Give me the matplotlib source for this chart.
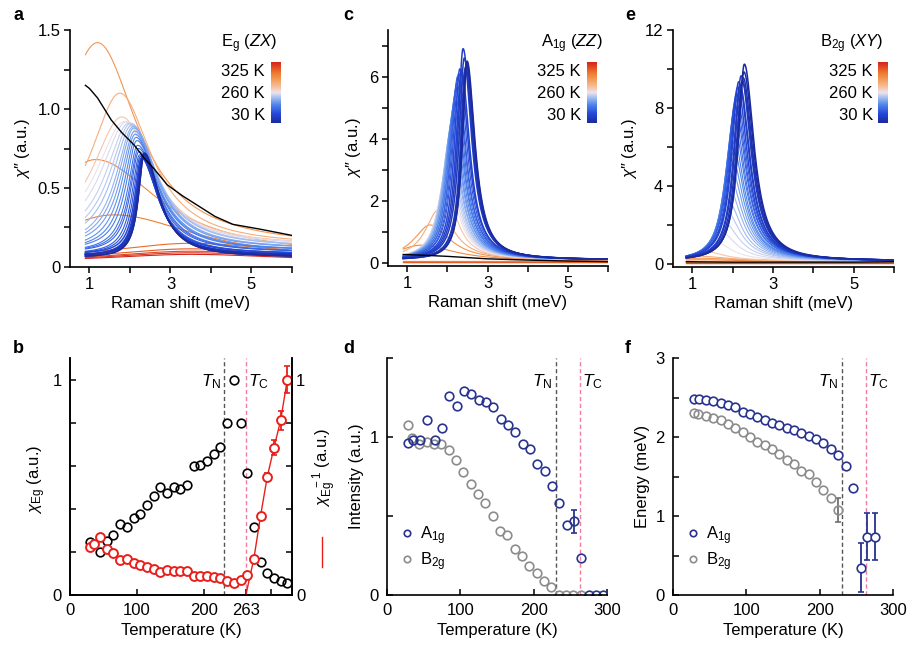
import matplotlib

matplotlib.use('Agg')
import matplotlib.pyplot as plt
import matplotlib.transforms as mtransforms
from matplotlib.colors import LinearSegmentedColormap
from matplotlib.lines import Line2D
import numpy as np

plt.rcParams['font.family'] = ['Liberation Sans', 'DejaVu Sans']
plt.rcParams['font.size'] = 12
plt.rcParams['mathtext.fontset'] = 'custom'
plt.rcParams['mathtext.rm'] = 'Liberation Sans'
plt.rcParams['mathtext.it'] = 'Liberation Sans:italic'
plt.rcParams['axes.linewidth'] = 1.2

# ---- spectra (a, c, e): peak parameters per temperature ----
T_spec = [30, 40, 50, 60, 70, 80, 90, 100, 110, 120, 130, 140, 150, 160, 170, 180, 190,
          200, 210, 220, 230, 240, 250, 260, 270, 280, 290, 295, 300, 305, 310, 315, 320, 325]

# Eg (ZX)
pos_a = [2.35, 2.35, 2.34, 2.33, 2.32, 2.31, 2.30, 2.28, 2.26, 2.24, 2.22, 2.21, 2.19, 2.17, 2.15, 2.13, 2.12,
         2.10, 2.08, 2.05, 2.02, 1.97, 1.92, 1.86, 1.80, 1.75, 1.20, 1.15, 1.60, 3.5, 3.5, 3.5, 3.5, 3.5]
h_a = [0.66, 0.66, 0.64, 0.64, 0.63, 0.62, 0.62, 0.61, 0.62, 0.63, 0.64, 0.66, 0.68, 0.70, 0.72, 0.74, 0.75,
       0.77, 0.78, 0.78, 0.79, 0.79, 0.79, 0.79, 0.82, 0.97, 1.30, 0.62, 0.30, 0.11, 0.08, 0.07, 0.06, 0.05]
wl_a = [0.17, 0.17, 0.17, 0.18, 0.18, 0.19, 0.19, 0.20, 0.22, 0.24, 0.26, 0.28, 0.30, 0.33, 0.36, 0.40, 0.44,
        0.48, 0.52, 0.58, 0.64, 0.70, 0.78, 0.85, 0.90, 0.90, 1.2, 1.5, 2.0, 2.5, 2.5, 2.5, 2.5, 2.5]
wr_a = [0.45, 0.45, 0.45, 0.46, 0.47, 0.48, 0.49, 0.50, 0.52, 0.54, 0.56, 0.58, 0.60, 0.62, 0.64, 0.66, 0.68,
        0.70, 0.72, 0.75, 0.78, 0.80, 0.82, 0.85, 0.90, 0.95, 1.2, 1.9, 2.5, 3.0, 3.0, 3.0, 3.0, 3.0]
bg_a = [0.06, 0.06, 0.07, 0.07, 0.07, 0.07, 0.07, 0.08, 0.08, 0.08, 0.09, 0.09, 0.09, 0.10, 0.10, 0.10, 0.11,
        0.11, 0.11, 0.12, 0.12, 0.12, 0.13, 0.13, 0.13, 0.13, 0.12, 0.06, 0.03, 0.04, 0.035, 0.03, 0.03, 0.03]
black_a_x = [0.9, 1.0, 1.2, 1.54, 1.8, 2.11, 2.35, 2.6, 2.92, 3.3, 3.73, 4.1, 4.54, 5.2, 5.6, 6.0]
black_a_y = [1.15, 1.13, 1.07, 0.93, 0.85, 0.77, 0.69, 0.62, 0.52, 0.45, 0.38, 0.32, 0.27, 0.24, 0.22, 0.20]

# A1g (ZZ)
pos_c = [2.49, 2.48, 2.47, 2.45, 2.42, 2.39, 2.35, 2.31, 2.28, 2.25, 2.23, 2.21, 2.19, 2.17, 2.15, 2.13, 2.11,
         2.09, 2.07, 2.05, 2.03, 2.01, 1.99, 1.97, 1.95, 1.78, 1.57, 1.35, 2.0, 2.0, 2.0, 2.0, 2.0, 2.0]
h_c = [6.4, 6.35, 6.3, 6.2, 6.5, 6.8, 6.1, 6.15, 6.0, 5.9, 5.7, 5.5, 5.3, 5.1, 4.9, 4.7, 4.5,
       4.3, 4.1, 3.9, 3.6, 3.3, 3.0, 2.7, 2.15, 1.62, 1.15, 0.52, 0.0, 0.0, 0.0, 0.0, 0.0, 0.0]
wl_c = [0.14, 0.14, 0.15, 0.15, 0.16, 0.16, 0.17, 0.17, 0.18, 0.18, 0.19, 0.19, 0.20, 0.20, 0.21, 0.21, 0.22,
        0.22, 0.23, 0.23, 0.24, 0.25, 0.26, 0.27, 0.30, 0.40, 0.50, 0.80, 1.0, 1.0, 1.0, 1.0, 1.0, 1.0]
wr_c = [0.24, 0.24, 0.24, 0.24, 0.25, 0.25, 0.25, 0.26, 0.26, 0.26, 0.27, 0.27, 0.27, 0.28, 0.28, 0.28, 0.29,
        0.29, 0.30, 0.30, 0.31, 0.32, 0.33, 0.34, 0.36, 0.45, 0.60, 1.0, 1.0, 1.0, 1.0, 1.0, 1.0, 1.0]
bg_c = [0.10, 0.10, 0.10, 0.10, 0.10, 0.10, 0.10, 0.10, 0.10, 0.10, 0.10, 0.10, 0.10, 0.10, 0.10, 0.10, 0.10,
        0.10, 0.10, 0.10, 0.10, 0.10, 0.10, 0.10, 0.10, 0.10, 0.08, 0.06, 0.07, 0.06, 0.05, 0.05, 0.04, 0.04]
black_c_x = [0.9, 1.5, 2.0, 2.5, 3.0, 4.0, 5.0, 6.0]
black_c_y = [0.28, 0.25, 0.22, 0.18, 0.14, 0.10, 0.07, 0.05]

# B2g (XY)
pos_e = [2.29, 2.28, 2.26, 2.24, 2.21, 2.18, 2.15, 2.12, 2.09, 2.07, 2.05, 2.03, 2.01, 1.99, 1.97, 1.95, 1.93,
         1.91, 1.89, 1.86, 1.83, 1.78, 1.70, 1.55, 1.30, 1.20, 1.20, 1.2, 1.2, 1.2, 1.2, 1.2, 1.2, 1.2]
h_e = [10.1, 9.7, 9.4, 9.2, 9.5, 9.0, 9.2, 8.9, 8.6, 8.3, 8.0, 7.6, 7.2, 6.7, 6.2, 5.6, 5.0,
       4.4, 3.8, 3.2, 2.6, 2.0, 1.5, 1.0, 0.5, 0.25, 0.15, 0.10, 0.0, 0.0, 0.0, 0.0, 0.0, 0.0]
wl_e = [0.19, 0.19, 0.19, 0.20, 0.20, 0.20, 0.21, 0.21, 0.21, 0.22, 0.22, 0.22, 0.23, 0.23, 0.24, 0.24, 0.25,
        0.26, 0.27, 0.28, 0.29, 0.30, 0.32, 0.35, 0.45, 0.6, 0.8, 1.0, 1.0, 1.0, 1.0, 1.0, 1.0, 1.0]
wr_e = [0.29, 0.29, 0.29, 0.30, 0.30, 0.30, 0.31, 0.31, 0.32, 0.32, 0.33, 0.33, 0.34, 0.34, 0.35, 0.36, 0.37,
        0.38, 0.39, 0.40, 0.42, 0.44, 0.46, 0.50, 0.60, 0.8, 1.0, 1.2, 1.0, 1.0, 1.0, 1.0, 1.0, 1.0]
bg_e = [0.15, 0.15, 0.15, 0.15, 0.15, 0.15, 0.15, 0.15, 0.15, 0.15, 0.15, 0.15, 0.15, 0.15, 0.15, 0.15, 0.15,
        0.15, 0.15, 0.15, 0.15, 0.15, 0.15, 0.15, 0.15, 0.15, 0.15, 0.12, 0.12, 0.10, 0.10, 0.08, 0.08, 0.08]
black_e_x = [0.85, 2.0, 3.0, 4.0, 5.0, 6.0]
black_e_y = [0.12, 0.10, 0.10, 0.10, 0.10, 0.12]

# ---- panel b ----
T_N = 230
T_C = 263
T_b_chi = [30, 45, 55, 65, 75, 85, 95, 105, 115, 125, 135, 145, 155, 165, 175, 185, 195, 205, 215, 225,
           235, 245, 255, 265, 275, 285, 295, 305, 315, 325]
chi_eg = [0.246, 0.199, 0.252, 0.277, 0.329, 0.317, 0.359, 0.376, 0.417, 0.459, 0.502, 0.474, 0.502, 0.49,
          0.509, 0.601, 0.603, 0.623, 0.654, 0.688, 0.796, 1.0, 0.796, 0.567, 0.317, 0.151, 0.1, 0.077,
          0.066, 0.054]
T_b_inv = [30, 36, 45, 55, 65, 75, 85, 95, 105, 115, 125, 135, 145, 155, 165, 175, 185, 195, 205, 215,
           225, 235, 245, 255, 265, 275, 285, 295, 305, 315, 325]
chi_eg_inv = [0.221, 0.239, 0.270, 0.213, 0.196, 0.162, 0.168, 0.147, 0.141, 0.128, 0.119, 0.107, 0.116,
              0.110, 0.113, 0.110, 0.090, 0.090, 0.088, 0.085, 0.077, 0.066, 0.054, 0.070, 0.094, 0.169,
              0.368, 0.549, 0.683, 0.811, 1.0]
chi_eg_inv_err = [0] * 27 + [0.017, 0.035, 0.044, 0.062]

# ---- panel d ----
T_d_a1g = [29, 35, 45, 55, 65, 75, 85, 95, 105, 115, 125, 135, 145, 155, 165, 175, 185, 195, 205, 215,
           225, 235, 245, 255, 265, 275, 285, 295]
int_a1g = [0.962, 0.983, 0.979, 1.11, 0.983, 1.055, 1.258, 1.199, 1.294, 1.275, 1.233, 1.22, 1.188, 1.114,
           1.076, 1.03, 0.958, 0.926, 0.831, 0.782, 0.687, 0.581, 0.442, 0.467, 0.233, 0, 0, 0]
int_a1g_err = [0] * 23 + [0.074] + [0] * 4
T_d_b2g = [28, 34, 44, 54, 64, 74, 84, 94, 104, 114, 124, 134, 144, 154, 164, 174, 184, 194, 204, 214,
           224, 234, 244, 254, 264]
int_b2g = [1.074, 0.994, 0.958, 0.968, 0.958, 0.956, 0.92, 0.856, 0.776, 0.704, 0.641, 0.581, 0.497, 0.408,
           0.381, 0.292, 0.247, 0.184, 0.142, 0.087, 0.053, 0, 0, 0, 0]

# ---- panel f ----
T_f_a1g = [29, 35, 45, 55, 65, 75, 85, 95, 105, 115, 125, 135, 145, 155, 165, 175, 185, 195, 205, 215,
           225, 236, 246, 256, 265, 276]
en_a1g = [2.484, 2.484, 2.47, 2.46, 2.43, 2.40, 2.38, 2.32, 2.29, 2.25, 2.22, 2.18, 2.155, 2.11, 2.09, 2.05,
          2.015, 1.97, 1.93, 1.85, 1.77, 1.635, 1.35, 0.346, 0.74, 0.74]
en_a1g_err = [0] * 23 + [0.31, 0.30, 0.30]
T_f_b2g = [28, 34, 45, 55, 65, 75, 85, 95, 105, 115, 125, 135, 145, 155, 165, 175, 185, 195, 205, 215, 225]
en_b2g = [2.30, 2.29, 2.27, 2.24, 2.21, 2.17, 2.11, 2.06, 2.0, 1.94, 1.90, 1.85, 1.79, 1.71, 1.66, 1.57,
          1.53, 1.43, 1.33, 1.225, 1.08]
en_b2g_err = [0] * 20 + [0.15]

BLUE = '#27338f'
GRAY = '#8c8c8c'
RED = '#e8201c'

cmap = LinearSegmentedColormap.from_list('temp', [
    (0.0, '#1b2a9e'), (0.15, '#2548d8'), (0.3, '#4f86ec'), (0.42, '#a9c0f0'), (0.5, '#ece4ee'),
    (0.58, '#f6c4a8'), (0.7, '#f4a060'), (0.82, '#ee7a2c'), (1.0, '#d6221a')])


def temp_frac(T):
    if T <= 260:
        return (T - 30) / 230 * 0.5
    return 0.5 + (T - 260) / 65 * 0.5


def lineshape(x, pos, h, wl, wr, bg):
    w = np.where(x < pos, wl, wr)
    return bg + h / (1 + ((x - pos) / w) ** 2)


def box(l, r, t, b):
    return [l / 911, 1 - b / 648, (r - l) / 911, (b - t) / 648]


def errbars(ax, x, y, err, color):
    keep = [i for i in range(len(err)) if err[i] > 0]
    ax.errorbar([x[i] for i in keep], [y[i] for i in keep], yerr=[err[i] for i in keep],
                fmt='none', ecolor=color, elinewidth=1.3, capsize=2.5, capthick=1.2)


fig = plt.figure(figsize=(9.11, 6.48), dpi=100)


def spectra(ax, x0, pos, h, wl, wr, bg, bx, by, ylim, yticks, ylabels, title, bar, lab_x, title_x):
    x = np.linspace(x0, 6.0, 600)
    for i in range(len(T_spec) - 1, -1, -1):
        lw = 1.1 if T_spec[i] <= 100 else 0.8
        ax.plot(x, lineshape(x, pos[i], h[i], wl[i], wr[i], bg[i]),
                color=cmap(temp_frac(T_spec[i])), lw=lw)
    ax.plot(bx, by, color='black', lw=1.0)
    ax.set_xlim(0.52, 6.0)
    ax.set_ylim(*ylim)
    ax.set_xticks([1, 2, 3, 4, 5, 6])
    ax.set_xticklabels(['1', '', '3', '', '5', ''])
    ax.set_yticks(yticks)
    ax.set_yticklabels(ylabels)
    ax.spines['top'].set_visible(False)
    ax.spines['right'].set_visible(False)
    ax.tick_params(direction='out', length=4.5, width=1.1, pad=2.5)
    ax.set_xlabel('Raman shift (meV)', labelpad=3)
    ax.set_ylabel(r'$\chi$″ (a.u.)', labelpad=4)
    cax = fig.add_axes(box(*bar))
    cax.imshow(np.linspace(0, 1, 256)[:, None], aspect='auto', cmap=cmap, origin='lower')
    cax.axis('off')
    for lab, yy in [('325 K', 71), ('260 K', 93), ('30 K', 115)]:
        fig.text(lab_x / 911, 1 - yy / 648, lab, ha='right', va='center', fontsize=12)
    fig.text(title_x / 911, 1 - 44 / 648, title, ha='right', va='center', fontsize=12)


ax_a = fig.add_axes(box(70, 292, 30, 267))
spectra(ax_a, 0.9, pos_a, h_a, wl_a, wr_a, bg_a, black_a_x, black_a_y, (0, 1.5),
        [0, 0.25, 0.5, 0.75, 1.0, 1.25, 1.5], ['0', '', '0.5', '', '1.0', '', '1.5'],
        r'E$_\mathrm{g}$ ($ZX$)', (271, 281, 62, 123), 265, 277)

ax_c = fig.add_axes(box(388, 608, 30, 266))
spectra(ax_c, 0.9, pos_c, h_c, wl_c, wr_c, bg_c, black_c_x, black_c_y, (-0.09, 7.5),
        [0, 1, 2, 3, 4, 5, 6, 7], ['0', '', '2', '', '4', '', '6', ''],
        r'A$_\mathrm{1g}$ ($ZZ$)', (587, 597, 62, 123), 581, 603)

ax_e = fig.add_axes(box(673, 894, 30, 267))
spectra(ax_e, 0.85, pos_e, h_e, wl_e, wr_e, bg_e, black_e_x, black_e_y, (-0.15, 12),
        [0, 2, 4, 6, 8, 10, 12], ['0', '', '4', '', '8', '', '12'],
        r'B$_\mathrm{2g}$ ($XY$)', (878, 888, 62, 123), 873, 884)


def transitions(ax, top=0.9):
    ax.axvline(T_N, color='#555555', ls=(0, (3, 2)), lw=1.0, zorder=0)
    ax.axvline(T_C, color='#f07ca0', ls=(0, (3, 2)), lw=1.0, zorder=0)
    tr = mtransforms.blended_transform_factory(ax.transData, ax.transAxes)
    ax.text(T_N - 4, top, r'$T_\mathrm{N}$', transform=tr, ha='right', va='center', fontsize=12.5)
    ax.text(T_C + 3, top, r'$T_\mathrm{C}$', transform=tr, ha='left', va='center', fontsize=12.5)


def bottom_style(ax):
    ax.spines['top'].set_visible(False)
    ax.spines['right'].set_visible(False)
    ax.tick_params(direction='in', length=4.5, width=1.1, pad=6)
    ax.set_xlabel('Temperature (K)', labelpad=3)


# ---- b ----
ax_b = fig.add_axes(box(70, 292, 358, 595))
ax_b2 = ax_b.twinx()
transitions(ax_b)
ax_b.plot(T_b_chi, chi_eg, 'o', mfc='none', mec='black', ms=6.2, mew=1.2)
ax_b2.plot([T_C] + T_b_inv[25:], [0] + chi_eg_inv[25:], color=RED, lw=1.0)
errbars(ax_b2, T_b_inv, chi_eg_inv, chi_eg_inv_err, RED)
ax_b2.plot(T_b_inv, chi_eg_inv, 'o', mfc='white', mec=RED, ms=6.4, mew=1.4)
for ax in (ax_b, ax_b2):
    ax.set_xlim(0, 332)
    ax.set_ylim(0, 1.1)
    ax.set_yticks([0, 0.2, 0.4, 0.6, 0.8, 1.0])
    ax.set_yticklabels(['0', '', '', '', '', '1'])
    ax.tick_params(direction='in', length=4.5, width=1.1, pad=6)
    ax.spines['top'].set_visible(False)
ax_b2.tick_params(axis='y', pad=3)
ax_b.set_xticks([0, 100, 200, 263, 300])
ax_b.set_xticklabels(['0', '100', '200', '263', ''])
ax_b.set_xlabel('Temperature (K)', labelpad=3)
ax_b.set_ylabel(r'$\chi_\mathrm{Eg}$ (a.u.)')
ax_b.yaxis.set_label_coords(-0.1, 0.49)
ax_b2.set_ylabel(r'$\chi_\mathrm{Eg}^{\ \ -1}$ (a.u.)')
ax_b2.yaxis.set_label_coords(1.085, 0.54)
fig.add_artist(Line2D([322 / 911, 322 / 911], [1 - 537 / 648, 1 - 567 / 648], color=RED, lw=1.0,
                      transform=fig.transFigure))

# ---- d ----
ax_d = fig.add_axes(box(387, 607, 358, 595))
transitions(ax_d)
errbars(ax_d, T_d_a1g, int_a1g, int_a1g_err, BLUE)
ax_d.plot(T_d_b2g, int_b2g, 'o', mfc='none', mec=GRAY, ms=6.2, mew=1.2, label=r'B$_\mathrm{2g}$')
ax_d.plot(T_d_a1g, int_a1g, 'o', mfc='none', mec=BLUE, ms=6.2, mew=1.2, label=r'A$_\mathrm{1g}$')
ax_d.set_xlim(0, 300)
ax_d.set_ylim(0, 1.5)
ax_d.set_xticks([0, 100, 200, 300])
ax_d.set_yticks([0, 0.5, 1.0, 1.5])
ax_d.set_yticklabels(['0', '', '1', ''])
ax_d.set_ylabel('Intensity (a.u.)')
bottom_style(ax_d)
h, l = ax_d.get_legend_handles_labels()
ax_d.legend(h[::-1], l[::-1], loc='lower left', frameon=False, markerscale=0.75, handlelength=0.6,
            handletextpad=0.5, labelspacing=0.2, bbox_to_anchor=(0.0, 0.03), fontsize=12)

# ---- f ----
ax_f = fig.add_axes(box(673, 893, 358, 595))
transitions(ax_f)
errbars(ax_f, T_f_b2g, en_b2g, en_b2g_err, '#707070')
errbars(ax_f, T_f_a1g, en_a1g, en_a1g_err, BLUE)
ax_f.plot(T_f_b2g, en_b2g, 'o', mfc='none', mec=GRAY, ms=6.2, mew=1.2, label=r'B$_\mathrm{2g}$')
ax_f.plot(T_f_a1g, en_a1g, 'o', mfc='white', mec=BLUE, ms=6.2, mew=1.2, label=r'A$_\mathrm{1g}$')
ax_f.set_xlim(0, 300)
ax_f.set_ylim(0, 3)
ax_f.set_xticks([0, 100, 200, 300])
ax_f.set_yticks([0, 0.5, 1, 1.5, 2, 2.5, 3])
ax_f.set_yticklabels(['0', '', '1', '', '2', '', '3'])
ax_f.set_ylabel('Energy (meV)')
bottom_style(ax_f)
h, l = ax_f.get_legend_handles_labels()
ax_f.legend(h[::-1], l[::-1], loc='lower left', frameon=False, markerscale=0.75, handlelength=0.6,
            handletextpad=0.5, labelspacing=0.2, bbox_to_anchor=(0.0, 0.03), fontsize=12)

for lab, x, y in [('a', 13, 15), ('c', 343, 15), ('e', 625, 15), ('b', 13, 348), ('d', 343, 348),
                  ('f', 625, 348)]:
    fig.text(x / 911, 1 - y / 648, lab, fontweight='bold', fontsize=13, ha='left', va='center')

plt.savefig('out.png', dpi=100)
